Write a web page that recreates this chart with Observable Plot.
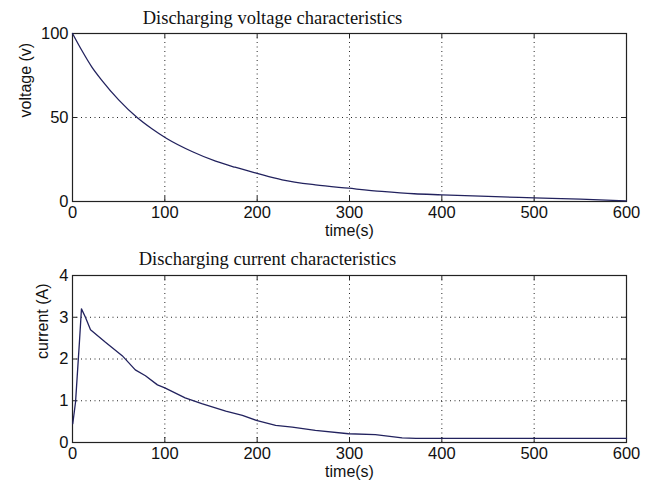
<!DOCTYPE html>
<html>
<head>
<meta charset="utf-8">
<script src="https://cdn.jsdelivr.net/npm/d3@7"></script>
<script src="https://cdn.jsdelivr.net/npm/@observablehq/plot@0.6"></script>
<style>
  html, body { margin: 0; padding: 0; background: #fff; }
  #chart { width: 651px; }
  #chart svg { display: block; }
</style>
</head>
<body>
<div id="chart"></div>
<script>
// Discharge test: capacitor voltage and current over time
const timeV = [0, 10, 21, 32, 50, 70, 86, 102, 130, 155, 176, 199, 227, 263, 299, 335, 370, 400, 450, 500, 550, 600];
const voltage = [100, 90, 80, 72, 60.5, 50, 43.3, 37.5, 29.6, 24, 20.4, 16.9, 12.9, 9.9, 7.9, 6, 4.6, 4, 3, 2.2, 1.4, 0.4];

const timeI = [0.3, 3.3, 7.6, 9.7, 14, 19.5, 35.7, 53.8, 68, 79, 92, 100, 122, 140, 166, 184, 199, 220, 238, 263, 299, 328, 357, 372, 600];
const current = [0.45, 0.97, 2.44, 3.2, 3.0, 2.7, 2.4, 2.08, 1.74, 1.6, 1.38, 1.31, 1.07, 0.93, 0.75, 0.65, 0.53, 0.41, 0.37, 0.29, 0.21, 0.19, 0.11, 0.1, 0.1];

const timeTicks = [0, 100, 200, 300, 400, 500, 600];
const voltageTicks = [0, 50, 100];
const currentTicks = [0, 1, 2, 3, 4];

const titles = ["Discharging voltage characteristics", "Discharging current characteristics"];
const yLabels = ["voltage (v)", "current (A)"];
const xLabel = "time(s)";

const lineColor = "#22225e";
const sans = "'Liberation Sans', Arial, sans-serif";
const serif = "'Liberation Serif', 'Times New Roman', serif";

function panel({t, v, curve, yDomain, yTicks, title, titleDx, yLabel, yLabelDx, height, marginTop, marginBottom, titleDy}) {
  const data = t.map((x, i) => ({x, y: v[i]}));
  const W = 651, marginLeft = 72, marginRight = 25;
  const frameH = height - marginTop - marginBottom;
  const frameW = W - marginLeft - marginRight;
  const tick = 5;
  return Plot.plot({
    width: W,
    height,
    marginLeft, marginRight, marginTop, marginBottom,
    style: {background: "#fff", color: "#111", fontFamily: sans, overflow: "visible"},
    x: {domain: [0, 600]},
    y: {domain: yDomain},
    marks: [
      // dotted MATLAB-style grid
      Plot.gridX(timeTicks.slice(1, -1), {stroke: "#000", strokeOpacity: 0.85, strokeDasharray: "1,3.5"}),
      Plot.gridY(yTicks.slice(1, -1), {stroke: "#000", strokeOpacity: 0.85, strokeDasharray: "1,3.5"}),
      // inward ticks on all four sides
      Plot.tickX(timeTicks, {x: d => d, insetTop: frameH - tick, stroke: "#222"}),
      Plot.tickX(timeTicks, {x: d => d, insetBottom: frameH - tick, stroke: "#222"}),
      Plot.tickY(yTicks, {y: d => d, insetRight: frameW - tick, stroke: "#222"}),
      Plot.tickY(yTicks, {y: d => d, insetLeft: frameW - tick, stroke: "#222"}),
      Plot.frame({stroke: "#222", strokeWidth: 1.2}),
      Plot.axisX(timeTicks, {tickSize: 0, tickPadding: 5, fontSize: 16.5, label: null, fill: "#111"}),
      Plot.axisY(yTicks, {tickSize: 0, tickPadding: 4, fontSize: 16.5, label: null, fill: "#111"}),
      Plot.line(data, {x: "x", y: "y", curve, stroke: lineColor, strokeWidth: 1.3}),
      Plot.text([title], {frameAnchor: "top-left", dx: titleDx, dy: titleDy, lineAnchor: "bottom", textAnchor: "middle", fontFamily: serif, fontSize: 18.5, fill: "#111"}),
      Plot.text([yLabel], {frameAnchor: "left", dx: yLabelDx, rotate: -90, fontSize: 16, fill: "#111"}),
      Plot.text([xLabel], {frameAnchor: "bottom", dy: 34, fontSize: 16, fill: "#111"})
    ]
  });
}

const chart = document.getElementById("chart");
chart.append(panel({
  t: timeV, v: voltage, curve: "monotone-x", yDomain: [0, 100], yTicks: voltageTicks,
  title: titles[0], titleDx: 200, yLabel: yLabels[0], yLabelDx: -47,
  height: 244, marginTop: 33, marginBottom: 43, titleDy: -10
}));
chart.append(panel({
  t: timeI, v: current, curve: "linear", yDomain: [0, 4], yTicks: currentTicks,
  title: titles[1], titleDx: 195, yLabel: yLabels[1], yLabelDx: -30,
  height: 244, marginTop: 31, marginBottom: 46, titleDy: -11
}));
</script>
</body>
</html>
